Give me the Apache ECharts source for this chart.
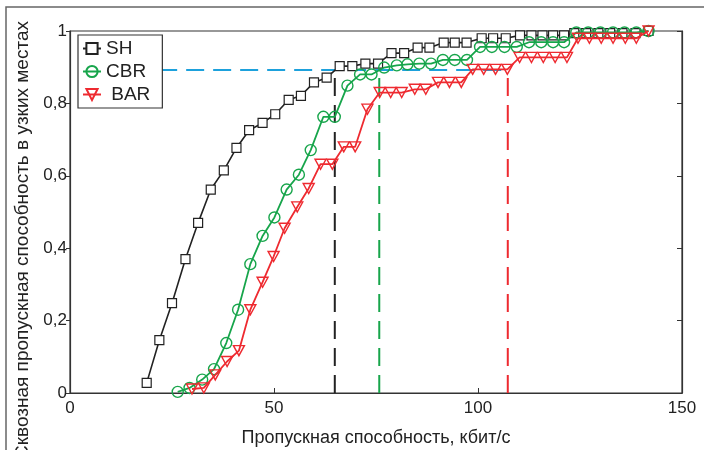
<!DOCTYPE html>
<html>
<head>
<meta charset="utf-8">
<script src="https://cdn.jsdelivr.net/npm/echarts@6/dist/echarts.min.js"></script>
<style>
  html, body { margin: 0; padding: 0; background: #fff; }
  #main { width: 704px; height: 450px; }
</style>
</head>
<body>
<div id="main"></div>
<script>
// throughput, kbit/s
var shX  = [18.8, 21.9, 25.0, 28.3, 31.4, 34.5, 37.7, 40.8, 43.9, 47.2, 50.3, 53.6, 56.6, 59.8, 62.9, 66.1, 69.2, 72.4, 75.5, 78.8,
            81.9, 85.2, 88.1, 91.6, 94.3, 97.2, 100.9, 103.7, 106.8, 110.3, 113.1, 115.8, 118.4, 121.1, 123.6, 126.5, 129.5, 132.4, 135.4, 138.6, 141.8];
var shY  = [0.028, 0.146, 0.248, 0.370, 0.470, 0.562, 0.615, 0.677, 0.726, 0.746, 0.770, 0.810, 0.821, 0.858, 0.871, 0.903, 0.903, 0.910, 0.910, 0.939,
            0.939, 0.954, 0.954, 0.968, 0.968, 0.968, 0.980, 0.980, 0.980, 0.988, 0.988, 0.988, 0.988, 0.988, 0.994, 0.994, 0.994, 0.994, 0.994, 0.994, 1.0];

var cbrX = [26.4, 29.3, 32.4, 35.3, 38.3, 41.2, 44.2, 47.2, 50.1, 53.1, 56.1, 59.0, 62.1, 64.9, 68.0, 71.1, 73.9, 77.0, 80.1, 82.7,
            85.6, 88.5, 91.4, 94.3, 97.3, 100.5, 103.4, 106.5, 109.5, 112.5, 115.5, 118.4, 121.1, 124.1, 127.0, 130.0, 133.1, 135.9, 138.8, 141.8];
var cbrY = [0.003, 0.014, 0.037, 0.066, 0.138, 0.230, 0.356, 0.434, 0.485, 0.562, 0.603, 0.671, 0.763, 0.763, 0.849, 0.880, 0.880, 0.899, 0.905, 0.908,
            0.910, 0.910, 0.920, 0.920, 0.920, 0.956, 0.956, 0.956, 0.956, 0.969, 0.969, 0.969, 0.969, 0.996, 0.996, 0.996, 0.996, 0.996, 0.996, 1.0];

var barX = [29.9, 32.8, 35.6, 38.5, 41.4, 44.2, 47.2, 49.9, 52.6, 55.7, 58.5, 61.4, 64.3, 67.1, 69.9, 72.9, 75.9, 78.6, 81.3, 84.5,
            87.2, 90.2, 93.0, 95.9, 98.7, 101.4, 104.3, 107.2, 110.2, 113.1, 116.0, 118.9, 121.8, 124.5, 127.3, 130.2, 133.1, 136.1, 138.8, 141.8];
var barY = [0.011, 0.014, 0.050, 0.087, 0.117, 0.230, 0.306, 0.377, 0.455, 0.514, 0.565, 0.632, 0.632, 0.680, 0.680, 0.784, 0.830, 0.830, 0.830, 0.839,
            0.839, 0.858, 0.858, 0.858, 0.894, 0.894, 0.894, 0.894, 0.927, 0.927, 0.927, 0.927, 0.927, 0.980, 0.980, 0.980, 0.980, 0.980, 0.980, 1.0];

// 0.89 level and where each curve reaches it
var levelY = 0.892;
var levelStartX = 2;
var cutSH = 64.9, cutCBR = 75.8, cutBAR = 107.3;

function zip(xs, ys) {
    return xs.map(function (x, i) { return [x, ys[i]]; });
}

function dashed(name, pts, color) {
    return {
        name: name,
        type: 'line',
        data: pts,
        symbol: 'none',
        z: 1,
        silent: true,
        lineStyle: { color: color, width: 2, type: [18, 9] }
    };
}

var myChart = echarts.init(document.getElementById('main'));
var font = 'Liberation Sans, Arial, sans-serif';

var option = {
    animation: false,
    textStyle: { fontFamily: font },
    graphic: [{
        type: 'rect',
        shape: { x: 6, y: 7, width: 760, height: 500 },
        style: { fill: null, stroke: '#666', lineWidth: 1.5 },
        silent: true
    }],
    grid: {
        left: 70, right: 22, top: 31, bottom: 57,
        outerBoundsMode: 'none',
        containLabel: false,
        show: true, borderColor: '#333', borderWidth: 1.2
    },
    legend: {
        data: ['SH', 'CBR', 'BAR'],
        orient: 'vertical',
        left: 78, top: 35,
        padding: [4, 12, 4, 4],
        itemGap: 4,
        itemWidth: 18,
        itemHeight: 14,
        borderColor: '#333',
        borderWidth: 1.2,
        backgroundColor: '#fff',
        borderRadius: 0,
        formatter: function (n) { return n === 'BAR' ? ' BAR' : n; },
        textStyle: { fontSize: 19, color: '#222', fontFamily: font }
    },
    xAxis: {
        type: 'value',
        min: 0, max: 150, interval: 50,
        name: 'Пропускная способность, кбит/с',
        nameLocation: 'middle',
        nameGap: 36,
        nameTextStyle: { fontSize: 18, color: '#222' },
        axisLine: { lineStyle: { color: '#333', width: 1.2 } },
        axisTick: { inside: true, length: 5, lineStyle: { color: '#333' } },
        axisLabel: { fontSize: 17, color: '#222', margin: 7 },
        splitLine: { show: false }
    },
    yAxis: [{
        type: 'value',
        min: 0, max: 1, interval: 0.2,
        name: 'Сквозная пропускная способность в узких местах',
        nameLocation: 'middle',
        nameGap: 33,
        nameTextStyle: { fontSize: 19, color: '#222', padding: [0, 56, 0, 0] },
        axisLine: { show: true, lineStyle: { color: '#333', width: 1.2 } },
        axisTick: { show: true, length: 4, lineStyle: { color: '#333' } },
        axisLabel: {
            fontSize: 17, color: '#222', margin: 3,
            formatter: function (v) { return String(v).replace('.', ','); }
        },
        splitLine: { show: false }
    }, {
        type: 'value',
        position: 'right',
        min: 0, max: 1, interval: 0.2,
        axisLine: { show: true, lineStyle: { color: '#333', width: 1.2 } },
        axisTick: { show: true, inside: true, length: 5, lineStyle: { color: '#333' } },
        axisLabel: { show: false },
        splitLine: { show: false }
    }],
    series: [
        dashed('lvl', [[levelStartX, levelY], [cutBAR, levelY]], '#1da1dc'),
        dashed('cutSH', [[cutSH, 0], [cutSH, levelY]], '#222'),
        dashed('cutCBR', [[cutCBR, 0], [cutCBR, levelY]], '#17a54b'),
        dashed('cutBAR', [[cutBAR, 0], [cutBAR, levelY]], '#ee2a30'),
        {
            name: 'SH', type: 'line', data: zip(shX, shY),
            symbol: 'rect', symbolSize: 9, z: 3,
            itemStyle: { color: '#fff', borderColor: '#222', borderWidth: 1.2 },
            lineStyle: { color: '#222', width: 1.6 }
        },
        {
            name: 'CBR', type: 'line', data: zip(cbrX, cbrY),
            symbol: 'circle', symbolSize: 11, z: 4,
            itemStyle: { color: 'rgba(255,255,255,0)', borderColor: '#17a54b', borderWidth: 1.4 },
            lineStyle: { color: '#17a54b', width: 1.8 }
        },
        {
            name: 'BAR', type: 'line', data: zip(barX, barY),
            symbol: 'triangle', symbolRotate: 180, symbolSize: [11, 10], z: 5,
            itemStyle: { color: 'rgba(255,255,255,0)', borderColor: '#ee2a30', borderWidth: 1.4 },
            lineStyle: { color: '#ee2a30', width: 1.8 }
        }
    ]
};
myChart.setOption(option);
</script>
</body>
</html>
